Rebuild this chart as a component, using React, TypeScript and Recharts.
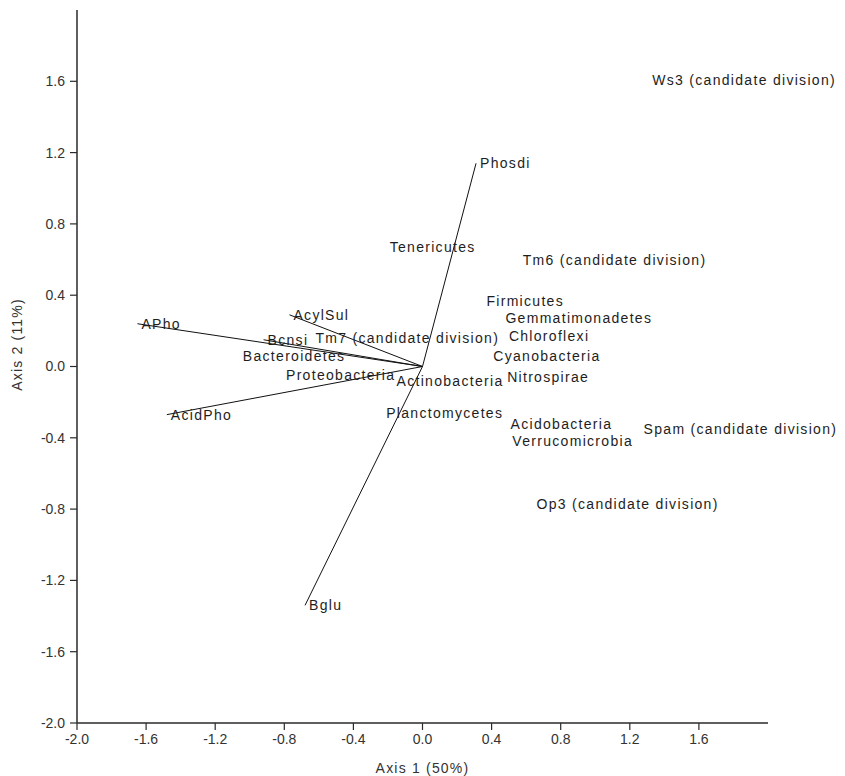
import React from 'react';
import { ScatterChart, Scatter, XAxis, YAxis } from 'recharts';

const xTicks = [-2.0, -1.6, -1.2, -0.8, -0.4, 0.0, 0.4, 0.8, 1.2, 1.6];
const yTicks = [-2.0, -1.6, -1.2, -0.8, -0.4, 0.0, 0.4, 0.8, 1.2, 1.6];

// enzyme vectors (arrows from the origin)
const vectorNames = ['Phosdi', 'Bglu', 'APho', 'AcidPho', 'AcylSul', 'Bcnsi'];
const vectorX = [0.31, -0.68, -1.65, -1.48, -0.77, -0.92];
const vectorY = [1.14, -1.34, 0.24, -0.27, 0.29, 0.15];

// taxa scores (label drawn at the point)
const taxaNames = [
    'Ws3 (candidate division)',
    'Tenericutes',
    'Tm6 (candidate division)',
    'Firmicutes',
    'Gemmatimonadetes',
    'Chloroflexi',
    'Cyanobacteria',
    'Nitrospirae',
    'Actinobacteria',
    'Proteobacteria',
    'Bacteroidetes',
    'Tm7 (candidate division)',
    'Planctomycetes',
    'Acidobacteria',
    'Verrucomicrobia',
    'Spam (candidate division)',
    'Op3 (candidate division)'
];
const taxaX = [1.33, -0.19, 0.58, 0.37, 0.48, 0.5, 0.41, 0.49, -0.15, -0.79, -1.04, -0.62, -0.21, 0.51, 0.52, 1.28, 0.66];
const taxaY = [1.61, 0.67, 0.6, 0.37, 0.27, 0.17, 0.06, -0.06, -0.08, -0.05, 0.06, 0.16, -0.26, -0.32, -0.42, -0.35, -0.77];

const font = '"Liberation Sans", Arial, sans-serif';
const textColor = '#1e1e1e';

const vectors = vectorNames.map((name, i) => ({ name, x: vectorX[i], y: vectorY[i] }));
const taxa = taxaNames.map((name, i) => ({ name, x: taxaX[i], y: taxaY[i] }));

const TextMark = (dx: number) => (props: any) => {
    const { cx, cy, payload } = props;
    return (
        <text
            x={cx + dx}
            y={cy}
            dominantBaseline="central"
            fontSize={14}
            letterSpacing={1.3}
            fontFamily={font}
            fill={textColor}
        >
            {payload.name}
        </text>
    );
};

const NoMark = () => <g />;

// rotated y axis title, sits a bit above the middle of the axis like the original
const YTitle = (props: any) => {
    const { viewBox } = props;
    const x = viewBox.x + 17;
    const y = viewBox.y + viewBox.height / 2 - 22;
    return (
        <text
            x={x}
            y={y}
            transform={`rotate(-90, ${x}, ${y})`}
            textAnchor="middle"
            dominantBaseline="central"
            fontSize={14}
            letterSpacing={1.2}
            fontFamily={font}
            fill="#333"
        >
            Axis 2 (11%)
        </text>
    );
};

export default function App() {
    return (
        <div style={{ position: 'absolute', left: 0, top: 0, background: '#fff' }}>
            <ScatterChart width={845} height={776} margin={{ top: 10, right: 77, bottom: 0, left: 0 }}>
                <XAxis
                    type="number"
                    dataKey="x"
                    domain={[-2, 2]}
                    ticks={xTicks}
                    tickFormatter={(v: number) => v.toFixed(1)}
                    height={53}
                    tickSize={7}
                    tickMargin={4}
                    axisLine={{ stroke: '#2a2a2a', strokeWidth: 1.5 }}
                    tickLine={{ stroke: '#2a2a2a', strokeWidth: 1.2 }}
                    tick={{ fill: '#333', fontSize: 14, fontFamily: font }}
                    label={{ value: 'Axis 1 (50%)', position: 'insideBottom', offset: 3, fill: '#333', fontSize: 14, letterSpacing: 1.2, fontFamily: font }}
                />
                <YAxis
                    type="number"
                    dataKey="y"
                    domain={[-2, 2]}
                    ticks={yTicks}
                    tickFormatter={(v: number) => v.toFixed(1)}
                    width={77}
                    tickSize={7}
                    tickMargin={5}
                    axisLine={{ stroke: '#2a2a2a', strokeWidth: 1.5 }}
                    tickLine={{ stroke: '#2a2a2a', strokeWidth: 1.2 }}
                    tick={{ fill: '#333', fontSize: 14, fontFamily: font }}
                    label={{ content: YTitle }}
                />
                {vectors.map((v) => (
                    <Scatter
                        key={v.name}
                        data={[{ x: 0, y: 0 }, { x: v.x, y: v.y }]}
                        line={{ stroke: '#111', strokeWidth: 1 }}
                        shape={NoMark}
                        legendType="none"
                        isAnimationActive={false}
                    />
                ))}
                <Scatter data={vectors} shape={TextMark(4)} isAnimationActive={false} />
                <Scatter data={taxa} shape={TextMark(0)} isAnimationActive={false} />
            </ScatterChart>
        </div>
    );
}
